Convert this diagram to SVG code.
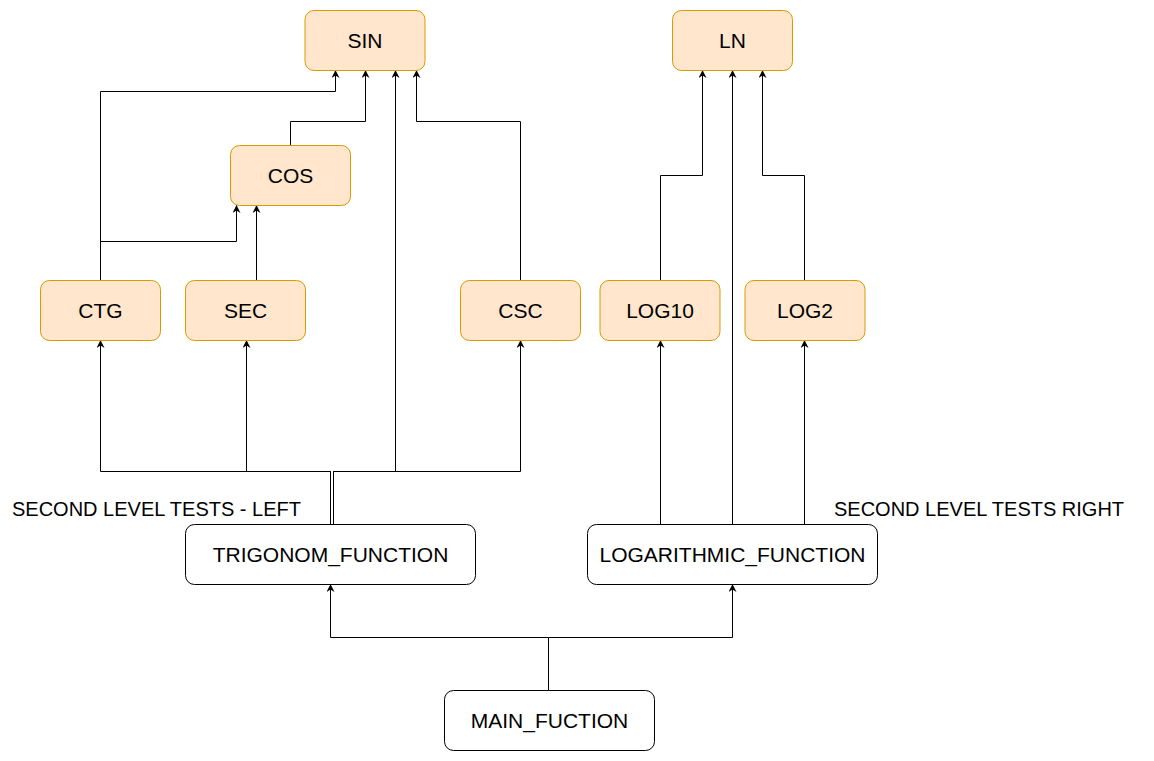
<svg xmlns="http://www.w3.org/2000/svg" width="1154" height="761" viewBox="0 0 1154 761">
<style>
.bg{fill:#ffffff}
.fn{fill:#ffe6cc;stroke:#d79b00;stroke-width:1}
.wn{fill:#ffffff;stroke:#000000;stroke-width:1}
.lbl{font-family:"Liberation Sans",Arial,sans-serif;font-size:21px;fill:#000000;text-anchor:middle}
.free{font-family:"Liberation Sans",Arial,sans-serif;font-size:20px;fill:#000000}
.edge{fill:none;stroke:#000000;stroke-width:1;marker-end:url(#arr)}
</style>
<defs>
<marker id="arr" viewBox="0 0 10 10" refX="10" refY="5" markerWidth="8" markerHeight="8" markerUnits="userSpaceOnUse" orient="auto">
<path d="M0,0 L10,5 L0,10 L3,5 z" fill="#000000" stroke="none"/>
</marker>
</defs>
<rect class="bg" x="0" y="0" width="1154" height="761"/>
<g id="connectors">
<path class="edge" d="M100.5,280 V91.5 H335.5 V70"/>
<path class="edge" d="M100.5,280 V241.5 H236.5 V205"/>
<path class="edge" d="M256.5,280 V205"/>
<path class="edge" d="M290.5,145 V121.5 H365.5 V70"/>
<path class="edge" d="M520.5,280 V121.5 H416.5 V70"/>
<path class="edge" d="M330.5,524 V471.5 H100.5 V340"/>
<path class="edge" d="M330.5,524 V471.5 H246.5 V340"/>
<path class="edge" d="M333.5,524 V471.5 H395.5 V70"/>
<path class="edge" d="M333.5,524 V471.5 H520.5 V340"/>
<path class="edge" d="M660.5,524 V340"/>
<path class="edge" d="M732.5,524 V70"/>
<path class="edge" d="M804.5,524 V340"/>
<path class="edge" d="M660.5,280 V175.5 H702.5 V70"/>
<path class="edge" d="M804.5,280 V175.5 H762.5 V70"/>
<path class="edge" d="M548.5,690 V637.5 H330.5 V584"/>
<path class="edge" d="M548.5,690 V637.5 H732.5 V584"/>
</g>
<g id="node-sin"><rect class="fn" x="305" y="10.5" width="120" height="60" rx="9"/><text class="lbl" x="365" y="48">SIN</text></g>
<g id="node-ln"><rect class="fn" x="672.5" y="10.5" width="120" height="60" rx="9"/><text class="lbl" x="732.5" y="48">LN</text></g>
<g id="node-cos"><rect class="fn" x="230.5" y="145.5" width="120" height="60" rx="9"/><text class="lbl" x="290.5" y="183">COS</text></g>
<g id="node-ctg"><rect class="fn" x="40.5" y="280.5" width="120" height="60" rx="9"/><text class="lbl" x="100.5" y="318">CTG</text></g>
<g id="node-sec"><rect class="fn" x="185.5" y="280.5" width="120" height="60" rx="9"/><text class="lbl" x="245.5" y="318">SEC</text></g>
<g id="node-csc"><rect class="fn" x="460.5" y="280.5" width="120" height="60" rx="9"/><text class="lbl" x="520.5" y="318">CSC</text></g>
<g id="node-log10"><rect class="fn" x="600" y="280.5" width="120" height="60" rx="9"/><text class="lbl" x="660" y="318">LOG10</text></g>
<g id="node-log2"><rect class="fn" x="745" y="280.5" width="120" height="60" rx="9"/><text class="lbl" x="805" y="318">LOG2</text></g>
<g id="node-trig"><rect class="wn" x="185.5" y="524.5" width="290" height="60" rx="9"/><text class="lbl" x="330.5" y="562">TRIGONOM_FUNCTION</text></g>
<g id="node-log"><rect class="wn" x="587.5" y="524.5" width="290" height="60" rx="9"/><text class="lbl" x="732.5" y="562">LOGARITHMIC_FUNCTION</text></g>
<g id="node-main"><rect class="wn" x="444.5" y="690.5" width="210" height="60" rx="9"/><text class="lbl" x="549.5" y="728">MAIN_FUCTION</text></g>
<g id="label-left"><text class="free" x="12" y="515.5">SECOND LEVEL TESTS - LEFT</text></g>
<g id="label-right"><text class="free" x="834" y="516">SECOND LEVEL TESTS RIGHT</text></g>
</svg>
